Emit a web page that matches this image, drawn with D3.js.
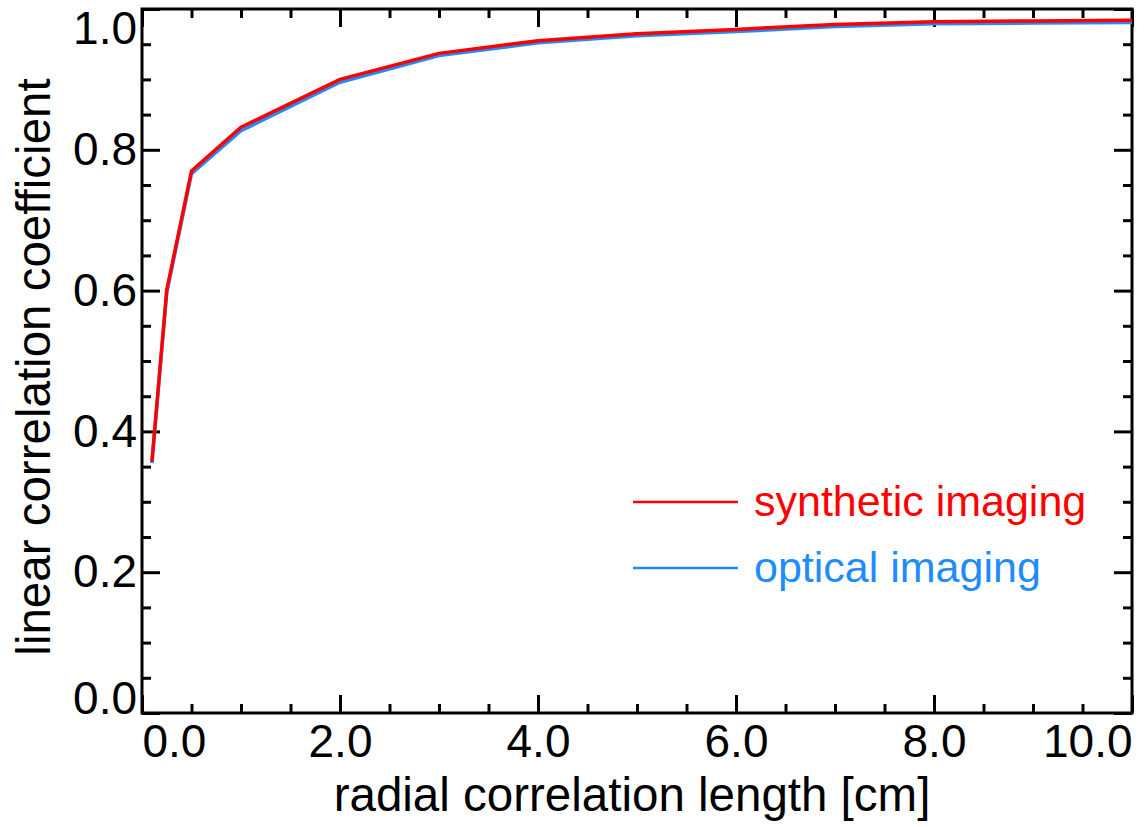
<!DOCTYPE html>
<html lang="en">
<meta charset="utf-8">
<head>
    <script src="https://d3js.org/d3.v7.min.js"></script>
    <style>
        body { margin: 0; background: #fff; }
        text { font-family: "Liberation Sans", Arial, Helvetica, sans-serif; }
    </style>
</head>
<body>
<script>
// radial correlation length [cm]
const radius = [0.1, 0.25, 0.5, 1, 2, 3, 4, 5, 6, 7, 8, 9, 10];
// linear correlation coefficient, per series
const synthetic = [0.357, 0.601, 0.770, 0.832, 0.900, 0.937, 0.955, 0.965, 0.971, 0.978, 0.982, 0.983, 0.984];
const optical = [0.355, 0.597, 0.766, 0.827, 0.896, 0.934, 0.952, 0.962, 0.968, 0.975, 0.979, 0.980, 0.981];

const xMajor = [0, 2, 4, 6, 8, 10];
const yMajor = [0, 0.2, 0.4, 0.6, 0.8, 1.0];

const seriesNames = ["synthetic imaging", "optical imaging"];
const colors = ["#ff0000", "#1e8cff"];

const W = 1145, H = 827;
const margin = {top: 9, right: 13, bottom: 114, left: 142};
const width = W - margin.left - margin.right;
const height = H - margin.top - margin.bottom;

const svg = d3.select("body").append("svg")
    .attr("width", W)
    .attr("height", H);

const g = svg.append("g")
    .attr("transform", "translate(" + margin.left + "," + margin.top + ")");

const x = d3.scaleLinear().domain([0, 10]).range([0, width]);
const y = d3.scaleLinear().domain([0, 1]).range([height, 0]);

const fmt = d3.format(".1f");
const xMinor = d3.range(0, 10.001, 0.5).filter(v => Math.abs(v / 2 - Math.round(v / 2)) > 1e-6);
const yMinor = d3.range(0, 1.001, 0.05).filter(v => Math.abs(v / 0.2 - Math.round(v / 0.2)) > 1e-6);

function styleAxis(sel) {
    sel.select(".domain").remove();
    sel.selectAll("line").attr("stroke", "#000").attr("stroke-width", 3);
    sel.selectAll("text").attr("fill", "#000").attr("font-size", 46);
}

// bottom axis
const axBottom = g.append("g").attr("transform", "translate(0," + height + ")");
axBottom.call(d3.axisBottom(x).tickValues(xMajor).tickSize(-18).tickPadding(11).tickFormat(fmt));
axBottom.append("g").call(d3.axisBottom(x).tickValues(xMinor).tickSize(-9).tickFormat(""));
axBottom.call(styleAxis).selectAll("g").call(styleAxis);
axBottom.selectAll(".tick text").filter(d => d === 0).attr("text-anchor", "start");
axBottom.selectAll(".tick text").filter(d => d === 10).attr("text-anchor", "end");

// top axis (ticks only)
const axTop = g.append("g");
axTop.call(d3.axisTop(x).tickValues(xMajor).tickSize(-18).tickFormat(""));
axTop.append("g").call(d3.axisTop(x).tickValues(xMinor).tickSize(-9).tickFormat(""));
axTop.call(styleAxis).selectAll("g").call(styleAxis);

// left axis
const axLeft = g.append("g");
axLeft.call(d3.axisLeft(y).tickValues(yMajor).tickSize(-18).tickPadding(5).tickFormat(fmt));
axLeft.append("g").call(d3.axisLeft(y).tickValues(yMinor).tickSize(-9).tickFormat(""));
axLeft.call(styleAxis).selectAll("g").call(styleAxis);
axLeft.selectAll(".tick text").filter(d => d === 0).attr("dy", "0");
axLeft.selectAll(".tick text").filter(d => d === 1).attr("dy", "0.74em");

// right axis (ticks only)
const axRight = g.append("g").attr("transform", "translate(" + width + ",0)");
axRight.call(d3.axisRight(y).tickValues(yMajor).tickSize(-18).tickFormat(""));
axRight.append("g").call(d3.axisRight(y).tickValues(yMinor).tickSize(-9).tickFormat(""));
axRight.call(styleAxis).selectAll("g").call(styleAxis);

// frame
g.append("rect")
    .attr("width", width)
    .attr("height", height)
    .attr("fill", "none")
    .attr("stroke", "#000")
    .attr("stroke-width", 3);

// data lines (optical under synthetic)
const line = d3.line()
    .x((d, i) => x(radius[i]))
    .y(d => y(d));

g.append("path")
    .datum(optical)
    .attr("fill", "none")
    .attr("stroke", colors[1])
    .attr("stroke-width", 3.5)
    .attr("d", line);

g.append("path")
    .datum(synthetic)
    .attr("fill", "none")
    .attr("stroke", colors[0])
    .attr("stroke-width", 3.5)
    .attr("d", line);

// legend
const legend = svg.append("g");
seriesNames.forEach(function(name, i) {
    const ly = 502 + i * 66;
    legend.append("line")
        .attr("x1", 633).attr("x2", 738)
        .attr("y1", ly).attr("y2", ly)
        .attr("stroke", colors[i])
        .attr("stroke-width", 2.5);
    legend.append("text")
        .attr("x", 754)
        .attr("y", ly + 14)
        .attr("fill", colors[i])
        .attr("font-size", 43)
        .text(name);
});

// axis titles
svg.append("text")
    .attr("x", margin.left + width / 2 - 5)
    .attr("y", 811)
    .attr("text-anchor", "middle")
    .attr("font-size", 47.5)
    .text("radial correlation length [cm]");

svg.append("text")
    .attr("transform", "translate(50," + (margin.top + height / 2 + 6) + ") rotate(-90)")
    .attr("text-anchor", "middle")
    .attr("font-size", 47.5)
    .text("linear correlation coefficient");
</script>
</body>
</html>
